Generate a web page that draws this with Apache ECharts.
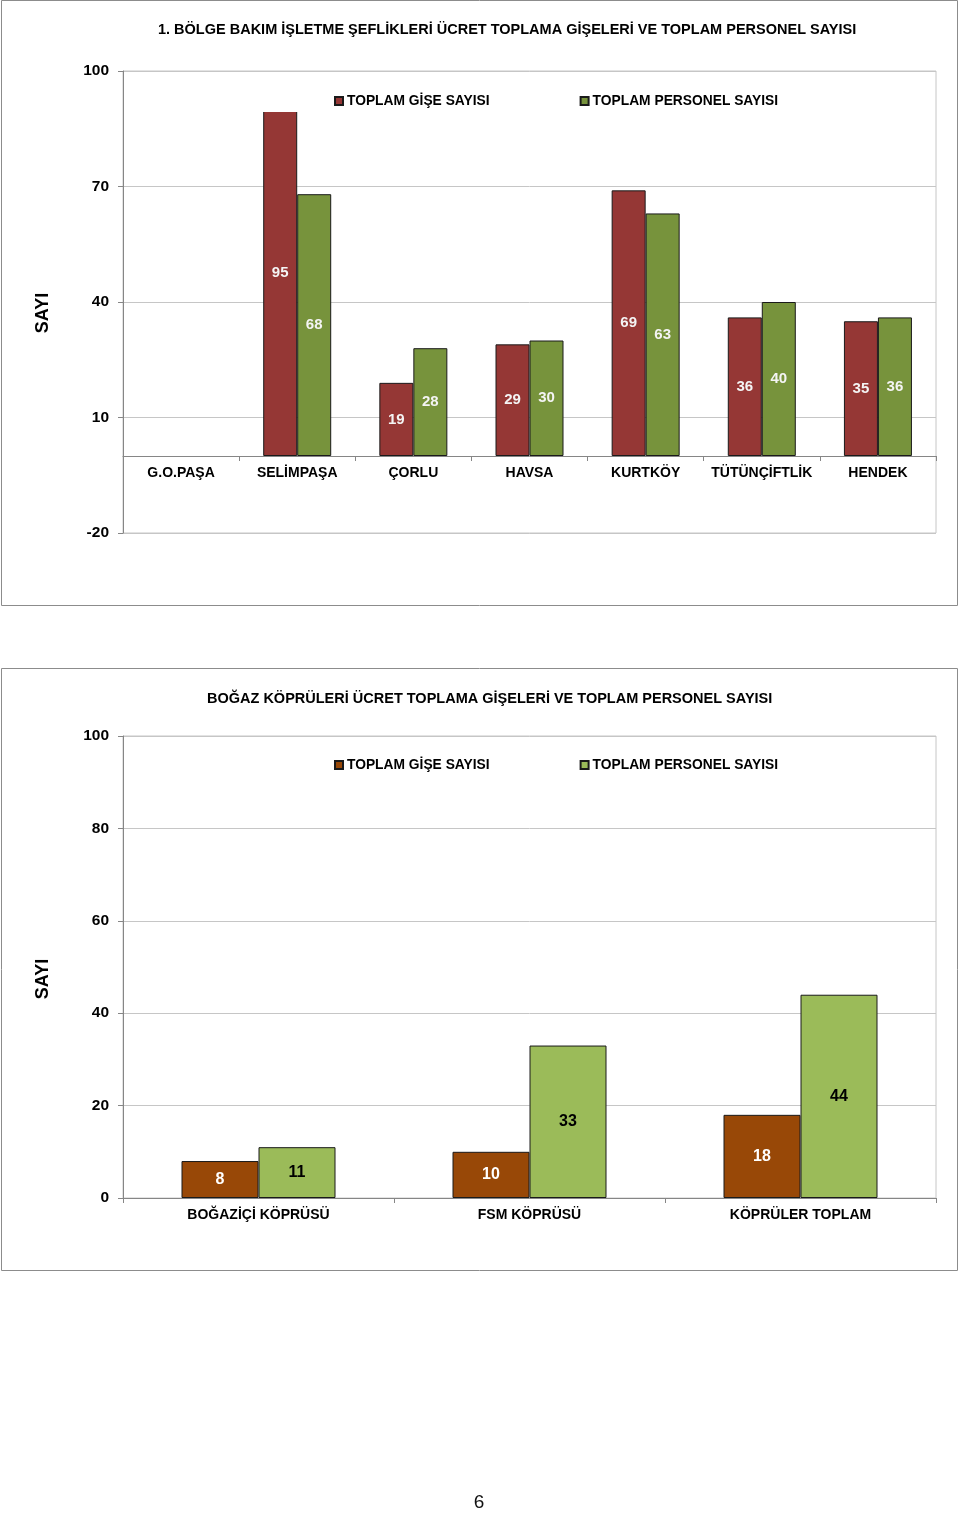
<!DOCTYPE html>
<html>
<head>
<meta charset="utf-8">
<script src="https://cdn.jsdelivr.net/npm/echarts@6/dist/echarts.min.js"></script>
<style>
html,body{margin:0;padding:0;background:#fff;}
#c1{position:absolute;left:0;top:0;width:960px;height:640px;}
#c2{position:absolute;left:0;top:640px;width:960px;height:874px;}
</style>
</head>
<body>
<div id="c1"></div>
<div id="c2"></div>
<script>
// ---- data ----
const title1 = '1. BÖLGE BAKIM İŞLETME ŞEFLİKLERİ ÜCRET TOPLAMA GİŞELERİ VE TOPLAM PERSONEL SAYISI';
const cats1 = ['G.O.PAŞA', 'SELİMPAŞA', 'ÇORLU', 'HAVSA', 'KURTKÖY', 'TÜTÜNÇİFTLİK', 'HENDEK'];
const gise1 = [null, 95, 19, 29, 69, 36, 35];
const personel1 = [null, 68, 28, 30, 63, 40, 36];
const yTicks1 = [-20, 10, 40, 70, 100];

const title2 = 'BOĞAZ KÖPRÜLERİ ÜCRET TOPLAMA GİŞELERİ VE TOPLAM PERSONEL SAYISI';
const cats2 = ['BOĞAZİÇİ KÖPRÜSÜ', 'FSM KÖPRÜSÜ', 'KÖPRÜLER TOPLAM'];
const gise2 = [8, 10, 18];
const personel2 = [11, 33, 44];
const yTicks2 = [0, 20, 40, 60, 80, 100];

const seriesNames = ['TOPLAM GİŞE SAYISI', 'TOPLAM PERSONEL SAYISI'];
const axisName = 'SAYI';
const pageNo = '6';

// ---- styles ----
const FF = '"Liberation Sans", Arial, sans-serif';
const gridColor = '#c6c6c6';
const axisColor = '#868686';

function makeOption(cfg) {
  return {
    animation: false,
    backgroundColor: 'transparent',
    title: {
      text: cfg.title, left: cfg.titleLeft, top: cfg.titleTop, padding: 0,
      textStyle: { fontFamily: FF, fontSize: 14.5, fontWeight: 'bold', color: '#000' }
    },
    legend: {
      data: seriesNames,
      left: cfg.legendLeft, top: cfg.legendTop,
      padding: [4, 40, 4, 79],
      itemGap: 90, itemWidth: 8, itemHeight: 8, icon: 'rect',
      backgroundColor: '#fff',
      z: 10,
      textStyle: { fontFamily: FF, fontSize: 13.8, fontWeight: 'bold', color: '#000', padding: [0, 0, 0, -1] }
    },
    grid: {
      left: 123, top: cfg.gridTop, width: 813, height: 462,
      show: true, borderColor: gridColor, borderWidth: 1, backgroundColor: 'transparent'
    },
    xAxis: {
      type: 'category', data: cfg.cats,
      axisLine: { onZero: true, lineStyle: { color: axisColor, width: 1 } },
      axisTick: { show: true, interval: 0, length: 5, alignWithLabel: false, lineStyle: { color: axisColor } },
      axisLabel: { interval: 0, margin: cfg.xLabelMargin, fontFamily: FF, fontSize: 14, fontWeight: 'bold', color: '#000' },
      splitLine: { show: false }
    },
    yAxis: {
      type: 'value', min: cfg.min, max: cfg.max, interval: cfg.interval,
      axisLine: { show: true, lineStyle: { color: axisColor, width: 1 } },
      axisTick: { show: true, length: 5, inside: false, lineStyle: { color: axisColor } },
      axisLabel: { margin: 14, fontFamily: FF, fontSize: 15.5, fontWeight: 'bold', color: '#000' },
      splitLine: { show: true, lineStyle: { color: gridColor, width: 1 } }
    },
    graphic: [
      { type: 'rect', shape: { x: 1.5, y: cfg.boxTop + 0.5, width: 956, height: cfg.boxHeight },
        style: { fill: 'none', stroke: '#8c8c8c', lineWidth: 1 }, z: -1, silent: true },
      { type: 'text', x: 43, y: cfg.sayiY, rotation: Math.PI / 2,
        style: { text: axisName, fontFamily: FF, fontSize: 18, fontWeight: 'bold', fill: '#000',
                 align: 'center', verticalAlign: 'middle' } }
    ].concat(cfg.extra || []),
    series: [
      {
        name: seriesNames[0], type: 'bar', data: cfg.s1, barWidth: cfg.barWidth, barGap: '0%',
        itemStyle: { color: cfg.c1, borderColor: '#1a1a1a', borderWidth: 1 },
        label: { show: true, position: 'inside', fontFamily: FF, fontSize: cfg.labelSize, fontWeight: 'bold', color: cfg.l1 }
      },
      {
        name: seriesNames[1], type: 'bar', data: cfg.s2, barWidth: cfg.barWidth, barGap: '0%',
        itemStyle: { color: cfg.c2, borderColor: '#1a1a1a', borderWidth: 1 },
        label: { show: true, position: 'inside', fontFamily: FF, fontSize: cfg.labelSize, fontWeight: 'bold', color: cfg.l2 }
      }
    ]
  };
}

const ch1 = echarts.init(document.getElementById('c1'), null, { renderer: 'canvas' });
ch1.setOption(makeOption({
  title: title1, titleLeft: 158, titleTop: 22,
  legendLeft: 255, legendTop: 90,
  gridTop: 71, min: yTicks1[0], max: yTicks1[yTicks1.length - 1], interval: yTicks1[1] - yTicks1[0],
  cats: cats1, s1: gise1, s2: personel1, barWidth: 34, xLabelMargin: -67,
  c1: '#953735', c2: '#77933c', l1: '#f4f4f4', l2: '#f4f4f4', labelSize: 15,
  boxTop: 0, boxHeight: 605, sayiY: 313
}));

const ch2 = echarts.init(document.getElementById('c2'), null, { renderer: 'canvas' });
ch2.setOption(makeOption({
  title: title2, titleLeft: 207, titleTop: 51,
  legendLeft: 255, legendTop: 114,
  gridTop: 96, min: yTicks2[0], max: yTicks2[yTicks2.length - 1], interval: yTicks2[1] - yTicks2[0],
  cats: cats2, s1: gise2, s2: personel2, barWidth: 77, xLabelMargin: 10,
  c1: '#984807', c2: '#9bbb59', l1: '#ffffff', l2: '#000000', labelSize: 16,
  boxTop: 28, boxHeight: 602, sayiY: 339,
  extra: [
    { type: 'text', x: 479, y: 863,
      style: { text: pageNo, fontFamily: FF, fontSize: 19, fill: '#111', align: 'center', verticalAlign: 'middle' } }
  ]
}));
</script>
</body>
</html>
